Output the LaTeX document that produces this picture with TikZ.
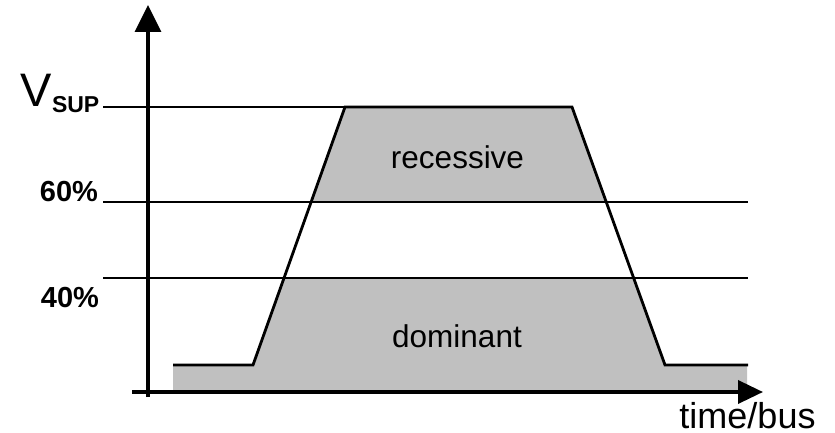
\documentclass[tikz,border=0pt]{standalone}
\usepackage{fontspec}
\setmainfont{Liberation Sans}
\usetikzlibrary{arrows.meta}
\definecolor{fillgray}{HTML}{C0C0C0}
\tikzset{
  lbl/.style={inner sep=0pt, outer sep=0pt, text=black},
  thinline/.style={line width=1.8pt},
  sigline/.style={line width=2.8pt, line join=miter},
  axisline/.style={line width=3.6pt},
  region/.style={fill=fillgray, draw=none}
}
\begin{document}
\begin{tikzpicture}[x=1pt,y=-1pt]
\useasboundingbox (0,0) rectangle (835,433);
% key coordinates
\coordinate (lowL) at (173,365);
\coordinate (riseB) at (253,365);
\coordinate (riseT) at (345,107);
\coordinate (fallT) at (572,107);
\coordinate (fallB) at (665,365);
\coordinate (lowR) at (748,365);
% gray regions
\fill[region] (345,107) -- (572,107) -- (606,202) -- (311,202) -- cycle;
\fill[region] (173,392) -- (lowL) -- (riseB) -- (284.5,278) -- (633.5,278) -- (fallB) -- (747,365) -- (747,392) -- cycle;
% level lines
\draw[thinline] (103,107) -- (riseT);
\draw[thinline] (103,202) -- (748,202);
\draw[thinline] (103,278) -- (748,278);
% signal
\draw[sigline] (lowL) -- (riseB) -- (riseT) -- (fallT) -- (fallB) -- (lowR);
% axes
\coordinate (yb) at (148,397);
\coordinate (yt) at (148,5);
\coordinate (xl) at (132,392);
\coordinate (xr) at (763,392);
\draw[axisline, -{Triangle[length=27,width=26]}] (yb) -- (yt);
\draw[axisline, -{Triangle[length=25,width=23]}] (xl) -- (xr);
% labels
\node[lbl, anchor=base west, font=\fontsize{47}{47}\selectfont] (v) at (20,107) {V};
\node[lbl, anchor=base west, font=\fontsize{23}{23}\selectfont\bfseries] (sup) at (52,113) {SUP};
\node[lbl, anchor=base east, font=\fontsize{29}{29}\selectfont\bfseries] (p60) at (98,201) {60\%};
\node[lbl, anchor=base east, font=\fontsize{29}{29}\selectfont\bfseries] (p40) at (99,307) {40\%};
\node[lbl, anchor=base, font=\fontsize{31.5}{31.5}\selectfont] (rec) at (457.5,168) {recessive};
\node[lbl, anchor=base, font=\fontsize{31.5}{31.5}\selectfont] (dom) at (457,347) {dominant};
\node[lbl, anchor=base, font=\fontsize{36}{36}\selectfont] (tb) at (747.5,428) {time/bus};
\end{tikzpicture}
\end{document}
